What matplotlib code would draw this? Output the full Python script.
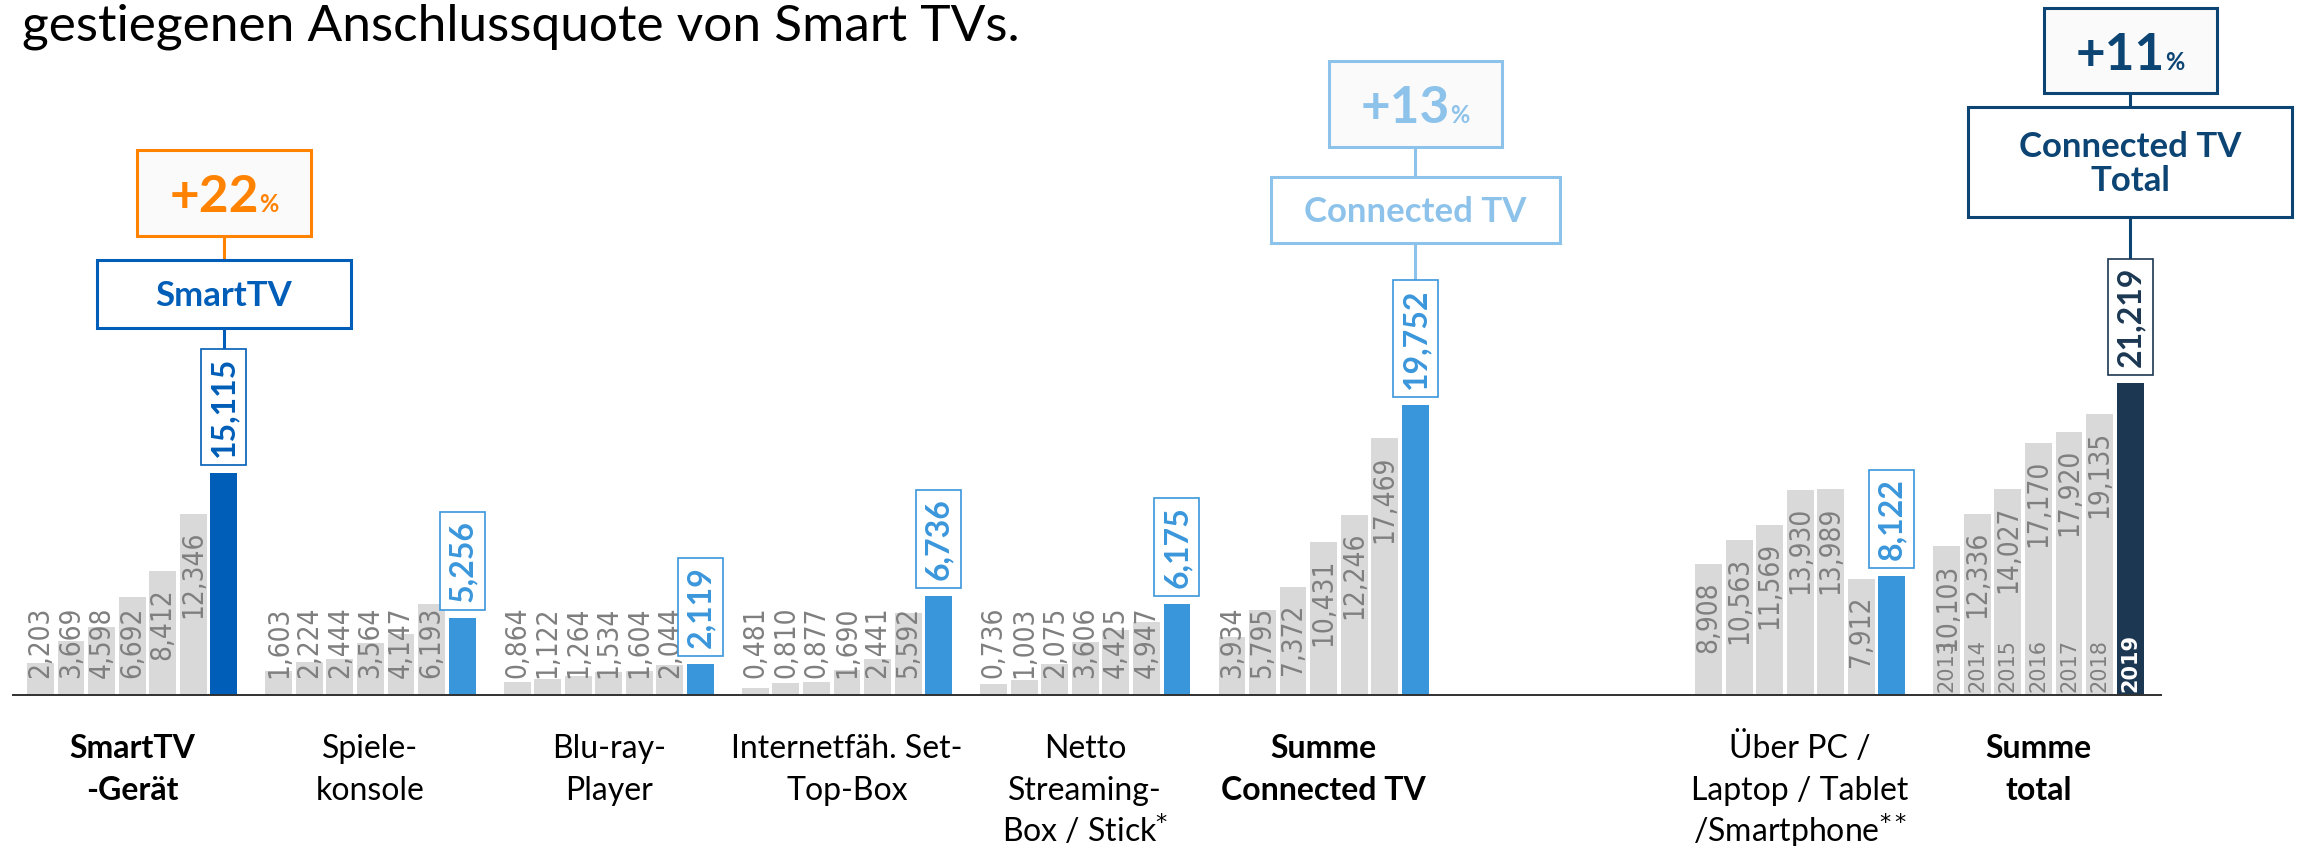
import matplotlib
matplotlib.use("Agg")
import matplotlib.pyplot as plt
from matplotlib.patches import Rectangle
from matplotlib import font_manager

# Nutzer in Mio., 2013-2019 je Kategorie
years = ["2013", "2014", "2015", "2016", "2017", "2018", "2019"]
categories = ["SmartTV\n-Gerät", "Spiele-\nkonsole", "Blu-ray-\nPlayer", "Internetfäh. Set-\nTop-Box",
              "Netto\nStreaming-\nBox / Stick$^{*}$", "Summe\nConnected TV",
              "Über PC /\nLaptop / Tablet\n/Smartphone$^{**}$", "Summe\ntotal"]
bold_cat = [True, False, False, False, False, True, False, True]

smarttv = [2.203, 3.669, 4.598, 6.692, 8.412, 12.346, 15.115]
spielekonsole = [1.603, 2.224, 2.444, 3.564, 4.147, 6.193, 5.256]
bluray_player = [0.864, 1.122, 1.264, 1.534, 1.604, 2.044, 2.119]
set_top_box = [0.481, 0.810, 0.877, 1.690, 2.441, 5.592, 6.736]
streaming_stick = [0.736, 1.003, 2.075, 3.606, 4.425, 4.947, 6.175]
summe_connected = [3.934, 5.795, 7.372, 10.431, 12.246, 17.469, 19.752]
pc_mobile = [8.908, 10.563, 11.569, 13.930, 13.989, 7.912, 8.122]
summe_total = [10.103, 12.336, 14.027, 17.170, 17.920, 19.135, 21.219]

groups = [smarttv, spielekonsole, bluray_player, set_top_box, streaming_stick,
          summe_connected, pc_mobile, summe_total]

growth = ["+22", "+13", "+11"]
callout_names = ["SmartTV", "Connected TV", "Connected TV\nTotal"]
callout_groups = [0, 5, 7]

# colours
GRAY = "#D9D9D9"
GRAY_TXT = "#7F7F7F"
hl_colors = ["#005EB8", "#3A96DB", "#3A96DB", "#3A96DB", "#3A96DB", "#3A96DB", "#3A96DB", "#1C3752"]
pct_colors = ["#FF8200", "#8DC3EB", "#0C4473"]
name_colors = ["#005EB8", "#8DC3EB", "#0C4473"]

# layout (pixels of the 2300x846 canvas)
W, H = 2300, 846
PITCH = 30.55      # px per bar slot
UNIT = 14.7        # px per Mio.
X0 = 40.5          # centre of first bar
BASE = 695         # baseline, px from top
GROUP_STEP = 7.8
group_slots = [0, 1, 2, 3, 4, 5, 7, 8]
pct_box = [(174, 150, 236), (173, 61, 147), (173, 8, 93)]       # width, top, bottom
name_box = [(254, 260, 328), (289, 177, 243), (324, 107, 217)]

FONT = "Lato"

# grey numbers look condensed in the original; use DejaVu Sans Condensed if present
_cond = font_manager.findfont(font_manager.FontProperties(family="DejaVu Sans", stretch="condensed"))
if "Condensed" in _cond:
    VAL_KW = dict(fontsize=20, fontstretch="condensed")
else:
    VAL_KW = dict(fontsize=18.5)


def py(y_px):
    return (BASE - y_px) / UNIT


def fmt(v):
    return f"{v:.3f}".replace(".", ",")


def bar_x(g, i):
    return group_slots[g] * GROUP_STEP + i


fig = plt.figure(figsize=(W / 100, H / 100), dpi=100)
ax = fig.add_axes([0, 0, 1, 1])
ax.set_xlim(-X0 / PITCH, (W - X0) / PITCH)
ax.set_ylim(-(H - BASE) / UNIT, BASE / UNIT)
ax.axis("off")

for g, vals in enumerate(groups):
    xs = [bar_x(g, i) for i in range(len(vals))]
    cols = [GRAY] * (len(vals) - 1) + [hl_colors[g]]
    ax.bar(xs, vals, width=0.88, color=cols, zorder=2)

ax.plot([-0.9, bar_x(7, 6) + 1.0], [0, 0], color="#303030", lw=1.4, zorder=3)

fig.canvas.draw()
r = fig.canvas.get_renderer()

# grey value labels: inside end, pushed up to base if they don't fit
pad = 17 / UNIT
for g, vals in enumerate(groups):
    for i, v in enumerate(vals[:-1]):
        t = ax.text(bar_x(g, i), v - pad, fmt(v), rotation=90, ha="center", va="top",
                    color=GRAY_TXT, zorder=3, **VAL_KW)
        if t.get_window_extent(r).y0 < (H - BASE) + 17:
            t.set_va("bottom")
            t.set_y(pad)

# year labels in the total group
for i, yr in enumerate(years):
    last = i == len(years) - 1
    ax.text(bar_x(7, i), 3 / UNIT, yr, rotation=90, ha="center", va="bottom",
            fontsize=15, color="white" if last else GRAY_TXT,
            weight="bold" if last else "normal", zorder=3)

# highlighted values with box
box_tops = {}
for g, vals in enumerate(groups):
    v = vals[-1]
    c = hl_colors[g]
    t = ax.text(bar_x(g, 6), v + 16 / UNIT, fmt(v), rotation=90, ha="center", va="bottom",
                fontsize=23, weight="bold", color=c, family=FONT, zorder=6,
                bbox=dict(boxstyle="square,pad=0.25", fc="white", ec=c, lw=1.2))
    bb = t.get_window_extent(r)
    top_px = bb.y1 + 0.25 * 23 * 100 / 72
    box_tops[g] = ax.transData.inverted().transform((0, top_px))[1]

# callouts
for k, g in enumerate(callout_groups):
    cx = bar_x(g, 6)
    w, top, bot = pct_box[k]
    ax.add_patch(Rectangle((cx - w / 2 / PITCH, py(bot)), w / PITCH, (bot - top) / UNIT,
                           fc="#FAFAFA", ec=pct_colors[k], lw=2.2, zorder=5))
    # "+22" + small "%", centred together
    yb = py((top + bot) / 2 + 19)
    t1 = ax.text(cx, yb, growth[k], ha="left", va="baseline", fontsize=37, weight="bold",
                 color=pct_colors[k], family=FONT, zorder=6)
    t2 = ax.text(cx, yb, "%", ha="left", va="baseline", fontsize=17, weight="bold",
                 color=pct_colors[k], family=FONT, zorder=6)
    w1 = t1.get_window_extent(r).width / PITCH
    w2 = t2.get_window_extent(r).width / PITCH
    t1.set_x(cx - (w1 + w2) / 2)
    t2.set_x(cx - (w1 + w2) / 2 + w1)

    nw, ntop, nbot = name_box[k]
    ax.add_patch(Rectangle((cx - nw / 2 / PITCH, py(nbot)), nw / PITCH, (nbot - ntop) / UNIT,
                           fc="white", ec=name_colors[k], lw=2.2, zorder=5))
    ax.text(cx, py((ntop + nbot) / 2 + 2), callout_names[k], ha="center", va="center",
            fontsize=25, weight="bold", color=name_colors[k], family=FONT,
            linespacing=1.1, zorder=6)

    ax.plot([cx, cx], [py(bot), py(ntop)], color=pct_colors[k], lw=2.2, zorder=4)
    ax.plot([cx, cx], [py(nbot), box_tops[g]], color=name_colors[k], lw=2.2, zorder=4)

# category labels, one baseline per line
for g, cat in enumerate(categories):
    for j, line in enumerate(cat.split("\n")):
        ax.text(bar_x(g, 3), py(758 + 42 * j), line, ha="center", va="baseline",
                fontsize=23, family=FONT, weight="bold" if bold_cat[g] else "normal")

fig.text(22 / W, 1 - 41 / H, "gestiegenen Anschlussquote von Smart TVs.", fontsize=37,
         family=FONT, ha="left", va="baseline")

fig.savefig("out.png", dpi=100)
